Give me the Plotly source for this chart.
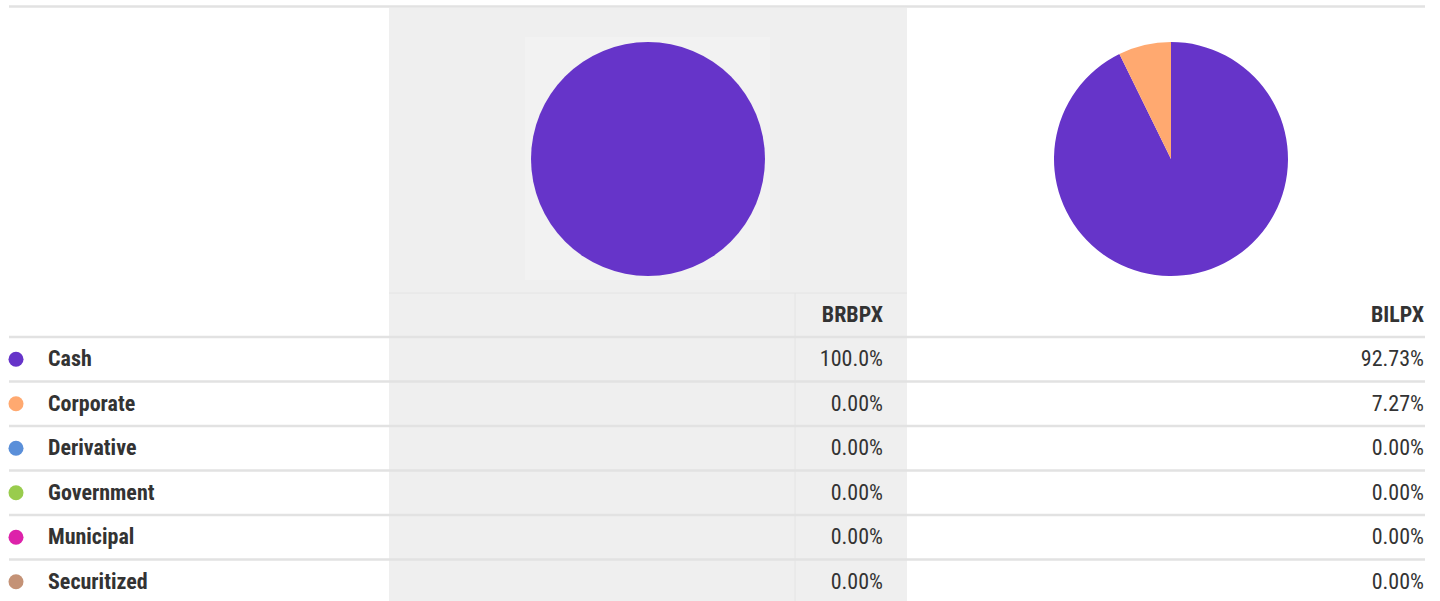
import plotly.graph_objects as go

# data
categories = ["Cash", "Corporate", "Derivative", "Government", "Municipal", "Securitized"]
funds = ["BRBPX", "BILPX"]
brbpx = [100.0, 0.0, 0.0, 0.0, 0.0, 0.0]
bilpx = [92.73, 7.27, 0.0, 0.0, 0.0, 0.0]
colors = ["#6634c9", "#ffa970", "#5a8fd9", "#99cc4d", "#dd22aa", "#c49276"]

W, H = 1440, 601
FONT = "Roboto Condensed, Liberation Sans Narrow, Roboto, sans-serif"
TEXT = "#333333"
LINE = "#e2e2e2"
FS = 22

row_top = 337      # first row separator
row_h = 44.5
text_dy = 1.5      # text sits slightly below row centre
header_y = 316
label_x = 48
dot_x = 16
col_right = [883, 1424]


def fmt(v):
    return f"{v:.1f}%" if v >= 100 else f"{v:.2f}%"


fig = go.Figure()

# pies
pie_domains = [
    dict(x=[531 / W, 765 / W], y=[1 - 276 / H, 1 - 42 / H]),
    dict(x=[1054 / W, 1288 / W], y=[1 - 276 / H, 1 - 42 / H]),
]
for vals, dom in zip([brbpx, bilpx], pie_domains):
    fig.add_trace(go.Pie(labels=categories, values=vals, domain=dom,
                         marker=dict(colors=colors, line=dict(width=0)),
                         sort=False, direction="clockwise", rotation=0,
                         textinfo="none", hoverinfo="label+percent",
                         showlegend=False))

row_y = [row_top + row_h * (i + 0.5) for i in range(len(categories))]
text_y = [y + text_dy for y in row_y]

# colour dots
fig.add_trace(go.Scatter(x=[dot_x] * len(categories), y=row_y, mode="markers",
                         marker=dict(color=colors, size=15, line=dict(width=0)),
                         hoverinfo="skip", showlegend=False))

# category names
fig.add_trace(go.Scatter(x=[label_x] * len(categories), y=text_y, mode="text",
                         text=[f"<b>{c}</b>" for c in categories],
                         textposition="middle right",
                         textfont=dict(family=FONT, size=FS, color=TEXT),
                         hoverinfo="skip", showlegend=False))

# fund values
for vals, xr in zip([brbpx, bilpx], col_right):
    fig.add_trace(go.Scatter(x=[xr] * len(vals), y=text_y, mode="text",
                             text=[fmt(v) for v in vals],
                             textposition="middle left",
                             textfont=dict(family=FONT, size=FS, color=TEXT),
                             hoverinfo="skip", showlegend=False))

# fund headers
fig.add_trace(go.Scatter(x=col_right, y=[header_y] * 2, mode="text",
                         text=[f"<b>{f}</b>" for f in funds],
                         textposition="middle left",
                         textfont=dict(family=FONT, size=FS, color=TEXT),
                         hoverinfo="skip", showlegend=False))

shapes = [
    # grey highlighted column
    dict(type="rect", x0=389, x1=907, y0=8, y1=H, fillcolor="#efefef",
         line=dict(width=0), layer="below"),
    dict(type="rect", x0=525, x1=770, y0=37, y1=280, fillcolor="#f2f2f2",
         line=dict(width=0), layer="below"),
    # header separator and column divider
    dict(type="line", x0=389, x1=907, y0=293, y1=293,
         line=dict(color="#e4e4e4", width=1), layer="below"),
    dict(type="line", x0=795, x1=795, y0=293, y1=H,
         line=dict(color="#e4e4e4", width=1), layer="below"),
    # top rule
    dict(type="line", x0=9, x1=1425, y0=6.5, y1=6.5,
         line=dict(color=LINE, width=2.5), layer="below"),
]
for i in range(len(categories)):
    y = row_top + row_h * i
    shapes.append(dict(type="line", x0=9, x1=1425, y0=y, y1=y,
                       line=dict(color=LINE, width=2.5), layer="below"))

fig.update_layout(
    width=W, height=H,
    margin=dict(l=0, r=0, t=0, b=0),
    paper_bgcolor="white", plot_bgcolor="rgba(0,0,0,0)",
    shapes=shapes,
    xaxis=dict(range=[0, W], visible=False, fixedrange=True),
    yaxis=dict(range=[H, 0], visible=False, fixedrange=True),
    font=dict(family=FONT, color=TEXT),
)

fig.write_html("out.html", config={"displayModeBar": False},
               post_script="document.body.style.margin='0';")
